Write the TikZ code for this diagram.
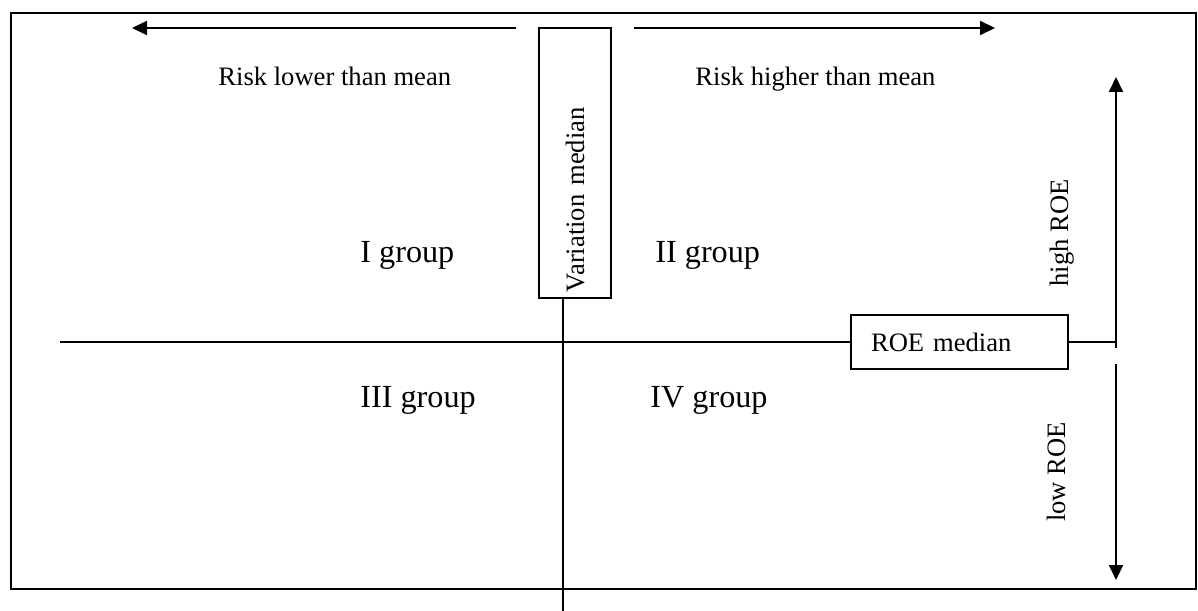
\documentclass[tikz,border=0pt]{standalone}
\usepackage{fontspec}
\setmainfont{Liberation Serif}
\usepackage{tikz}
\usetikzlibrary{arrows.meta}

\begin{document}
\begin{tikzpicture}[x=0.5pt, y=-0.5pt]

	\tikzstyle{median_box}=[rectangle, draw=black, line width=0.7pt, font=\fontsize{13.3}{16}\selectfont, align=left]
	\tikzstyle{side_label}=[inner sep=0pt, font=\fontsize{13.3}{16}\selectfont]
	\tikzstyle{group_label}=[inner sep=0pt, font=\fontsize{16.1}{19}\selectfont]
	\tikzstyle{thick_arrow}=[-{Triangle[length=7.5pt, width=7pt]}, line width=1pt]
	\tikzstyle{median_line}=[line width=0.7pt]

	\useasboundingbox (0,0) rectangle (1198,610);
	\draw[line width=1pt] (11,13) rectangle (1196,589);

	\coordinate (lower_start) at (516,28);
	\coordinate (lower_tip) at (132,28);
	\coordinate (higher_start) at (634,28);
	\coordinate (higher_tip) at (995,28);
	\coordinate (high_foot) at (1116,348);
	\coordinate (high_tip) at (1116,77);
	\coordinate (low_top) at (1116,364);
	\coordinate (low_tip) at (1116,580);
	\coordinate (median_start) at (60,342);
	\coordinate (variation_foot) at (563,612);

	\node[median_box, rotate=90, text width=129pt, inner xsep=3pt, minimum height=36pt] at (575,163) (variation) {Variation median};
	\node[median_box, text width=88.5pt, inner xsep=10pt, minimum height=27pt] at (959.5,342) (roe) {ROE median};

	\node[side_label, anchor=base west] at (218,86) (risk_lower) {Risk lower than mean};
	\node[side_label, anchor=base west] at (695,86) (risk_higher) {Risk higher than mean};
	\node[group_label, anchor=base west] at (360,262) (group_one) {I group};
	\node[group_label, anchor=base west] at (655,262) (group_two) {II group};
	\node[group_label, anchor=base west] at (360,407) (group_three) {III group};
	\node[group_label, anchor=base west] at (650,407) (group_four) {IV group};
	\node[side_label, rotate=90] at (1062,233) (high_roe) {high ROE};
	\node[side_label, rotate=90] at (1056,472) (low_roe) {low ROE};

	\draw[thick_arrow] (lower_start) -- (lower_tip);
	\draw[thick_arrow] (higher_start) -- (higher_tip);
	\draw[median_line] (variation_foot) -- (variation_foot |- variation.west);
	\draw[median_line] (median_start) -- (roe.west);
	\draw[median_line] (roe.east) -- (roe.east -| high_foot);
	\draw[thick_arrow] (high_foot) -- (high_tip);
	\draw[thick_arrow] (low_top) -- (low_tip);
\end{tikzpicture}
\end{document}
